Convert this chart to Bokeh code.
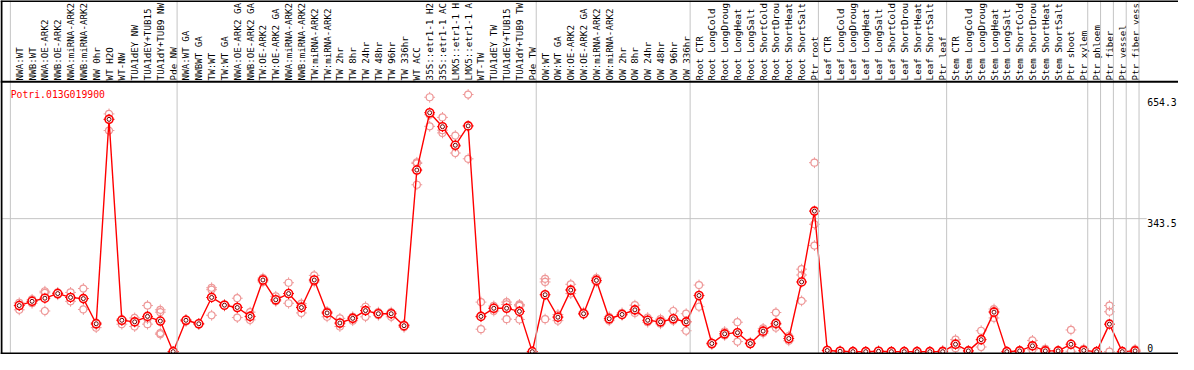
import math
from bokeh.plotting import figure
from bokeh.models import Range1d, Span
from bokeh.core.properties import value
from bokeh.embed import file_html
from bokeh.resources import INLINE

gene = "Potri.013G019900"

# header labels as they are visible in the reference (long names are cut at the top edge)
labels = [
    "NWA:WT", "NWB:WT", "NWA:OE-ARK2", "NWB:OE-ARK2", "NWA:miRNA-ARK2", "NWB:miRNA-ARK2",
    "NW 0hr", "WT H2O", "WT-NW", "TUA1dEY NW", "TUA1dEY+TUB15", "TUA1dY+TUB9 NW", "Pde NW",
    "NWA:WT GA", "NWBWT GA", "TW:WT", "TW:WT GA", "NWA:OE-ARK2 GA", "NWB:OE-ARK2 GA",
    "TW:OE-ARK2", "TW:OE-ARK2 GA", "NWA:miRNA-ARK2", "NWB:miRNA-ARK2", "TW:miRNA-ARK2",
    "TW:miRNA-ARK2", "TW 2hr", "TW 8hr", "TW 24hr", "TW 48hr", "TW 96hr", "TW 336hr",
    "WT ACC", "35S::etr1-1 H2", "35S::etr1-1 AC", "LMX5::etr1-1 H", "LMX5::etr1-1 A",
    "WT-TW", "TUA1dEY TW", "TUA1dEY+TUB15", "TUA1dY+TUB9 TW", "Pde TW",
    "OW:WT", "OW:WT GA", "OW:OE-ARK2", "OW:OE-ARK2 GA", "OW:miRNA-ARK2", "OW:miRNA-ARK2",
    "OW 2hr", "OW 8hr", "OW 24hr", "OW 48hr", "OW 96hr", "OW 336hr",
    "Root CTR", "Root LongCold", "Root LongDroug", "Root LongHeat", "Root LongSalt",
    "Root ShortCold", "Root ShortDrou", "Root ShortHeat", "Root ShortSalt", "Ptr root",
    "Leaf CTR", "Leaf LongCold", "Leaf LongDroug", "Leaf LongHeat", "Leaf LongSalt",
    "Leaf ShortCold", "Leaf ShortDrou", "Leaf ShortHeat", "Leaf ShortSalt", "Ptr leaf",
    "Stem CTR", "Stem LongCold", "Stem LongDroug", "Stem LongHeat", "Stem LongSalt",
    "Stem ShortCold", "Stem ShortDrou", "Stem ShortHeat", "Stem ShortSalt", "Ptr shoot",
    "Ptr xylem", "Ptr phloem", "Ptr fiber", "Ptr vessel", "Ptr fiber vess",
]

group_sizes = [13, 28, 12, 10, 10, 11, 1, 1, 1, 1]

means = [
    119, 130, 138, 150, 140, 137, 72, 600, 81, 77, 91, 79, 0,
    81, 72, 140, 120, 114, 91, 185, 134, 150, 114, 185, 100, 74, 86, 106, 98, 98, 67,
    469, 617, 581, 533, 583, 91, 112, 112, 104, 0,
    147, 89, 159, 98, 184, 85, 96, 108, 81, 77, 85, 77,
    145, 21, 46, 49, 21, 53, 73, 34, 180, 363,
    3, 1, 0, 0, 1, 0, 0, 0, 0, 0,
    19, 2, 31, 102, 0, 2, 15, 2, 2, 19, 3,
    0, 71, 0, 2,
]

replicates = [
    [126, 108, 119], [135, 125, 130], [156, 105, 152], [153, 147, 150], [153, 130, 140],
    [163, 109, 137], [75, 62, 70], [614, 571, 600], [71, 84, 80], [87, 65, 77],
    [119, 71, 85], [108, 102, 45, 48], [0, 0, 0],
    [83, 78, 81], [70, 73], [165, 94, 160], [118, 122], [138, 88, 115], [102, 82, 91],
    [190, 180], [143, 130, 132], [178, 125, 150], [124, 100, 118], [197, 180],
    [104, 90, 100], [86, 65, 72], [90, 80, 88], [116, 90, 106], [102, 94, 98],
    [102, 90, 98], [70, 63, 67], [489, 431, 486], [657, 582, 612], [605, 565, 572],
    [558, 513, 530], [664, 498, 583], [128, 58, 90], [118, 105, 112], [128, 84, 122],
    [122, 83, 118, 120], [0, 0],
    [188, 84, 180], [96, 80, 90], [174, 150, 160], [102, 96], [190, 180], [90, 80],
    [100, 94], [120, 100, 108], [88, 76], [84, 72], [105, 80], [98, 54],
    [172, 116], [23, 18], [52, 42], [76, 26, 50], [24, 20], [60, 48], [101, 62, 70],
    [40, 28], [213, 198, 131], [488, 329, 274],
    [4, 2], [2, 0], [0, 0], [0], [2], [0], [0], [0], [0], [3, 2],
    [31, 9, 22], [3, 1], [54, 12], [110, 87, 104], [0], [3, 1], [29, 5], [7, 0], [2],
    [56, 1], [7, 1],
    [0], [119, 103, 0], [0], [6, 0],
]

tick_values = [654.3, 343.5, 0]
tick_labels = ["654.3", "343.5", "0"]

# ---- layout / scales ----
W, H = 1178, 354
X0, X1 = -1.4615, 90.385
Y0, Y1 = -7.36, 906.9
PX_X = W / (X1 - X0)
PX_Y = H / (Y1 - Y0)
CELL_OFF = 0.692          # group boundary offset from point centre (in category units)
HEADER_LINE = 696.8
LABEL_Y = 700.6
TITLE_Y = 679.6
TOP_LINE = 905.6
BOTTOM_LINE = -4.9

RED = "#ff0000"
PINK = "#ee9898"
GRID = "#c4c4c4"
FONT = value("DejaVu Sans Mono")

p = figure(width=W, height=H, x_range=Range1d(X0, X1), y_range=Range1d(Y0, Y1),
           output_backend="svg", toolbar_location=None, min_border=0,
           outline_line_color=None, background_fill_color="white",
           border_fill_color="white")
p.axis.visible = False
p.grid.visible = False

# vertical group gridlines
bounds = [0]
for g in group_sizes:
    bounds.append(bounds[-1] + g)
for b in bounds:
    p.add_layout(Span(location=b - CELL_OFF, dimension="height", line_color=GRID, line_width=1))

# horizontal gridline(s) (not at 0 / max)
xs_idx = list(range(len(means)))
grid_vals = [v for v in tick_values if 0 < v < max(tick_values)]
p.segment(x0=[-1.385] * len(grid_vals), y0=grid_vals, x1=[87.9] * len(grid_vals), y1=grid_vals,
          line_color=GRID, line_width=1)

# frame lines
p.add_layout(Span(location=TOP_LINE, dimension="width", line_color="black", line_width=2))
p.add_layout(Span(location=HEADER_LINE, dimension="width", line_color="black", line_width=2))
p.add_layout(Span(location=BOTTOM_LINE, dimension="width", line_color="black", line_width=2))
p.add_layout(Span(location=-1.385, dimension="height", line_color="black", line_width=2))

# header labels
p.text(x=xs_idx, y=[LABEL_Y] * len(labels), text=labels, angle=math.pi / 2,
       text_align="left", text_baseline="middle", text_font=FONT,
       text_font_size="9.2px", text_color="black")

# title
p.text(x=[-CELL_OFF + 0.02], y=[TITLE_Y], text=[gene], text_align="left", text_baseline="top",
       text_font=FONT, text_font_size="9.8px", text_color=RED)

# tick labels
top_ticks = [(v, t) for v, t in zip(tick_values, tick_labels) if v > 0]
zero_ticks = [(v, t) for v, t in zip(tick_values, tick_labels) if v == 0]
p.text(x=[87.95] * len(top_ticks), y=[v for v, _ in top_ticks], text=[t for _, t in top_ticks],
       text_align="left", text_baseline="top", text_font=FONT, text_font_size="9.8px",
       text_color="black")
p.text(x=[87.95] * len(zero_ticks), y=[v for v, _ in zero_ticks], text=[t for _, t in zero_ticks],
       text_align="left", text_baseline="bottom", text_font=FONT, text_font_size="9.8px",
       text_color="black")


def tick_marks(xv, yv, color, width, r_in=3.4, r_out=5.4):
    x0, y0, x1, y1 = [], [], [], []
    for x, y in zip(xv, yv):
        dx_in, dx_out = r_in / PX_X, r_out / PX_X
        dy_in, dy_out = r_in / PX_Y, r_out / PX_Y
        x0 += [x, x, x - dx_out, x + dx_in]
        x1 += [x, x, x - dx_in, x + dx_out]
        y0 += [y + dy_in, y - dy_out, y, y]
        y1 += [y + dy_out, y - dy_in, y, y]
    p.segment(x0=x0, y0=y0, x1=x1, y1=y1, line_color=color, line_width=width)


# replicate points
rx, ry = [], []
for i, reps in enumerate(replicates):
    for r in reps:
        rx.append(i)
        ry.append(r)
tick_marks(rx, ry, PINK, 1)
p.scatter(rx, ry, marker="circle", size=7, fill_color=None, line_color=PINK, line_width=1.2)

# mean line
p.line(xs_idx, means, line_color=RED, line_width=1.4)

# mean markers
tick_marks(xs_idx, means, RED, 1)
p.scatter(xs_idx, means, marker="circle", size=8, fill_color="white", line_color=RED, line_width=1.6)
p.scatter(xs_idx, means, marker="circle", size=4, fill_color=None, line_color="#700000", line_width=1)

open("out.html", "w").write(file_html(p, INLINE))
